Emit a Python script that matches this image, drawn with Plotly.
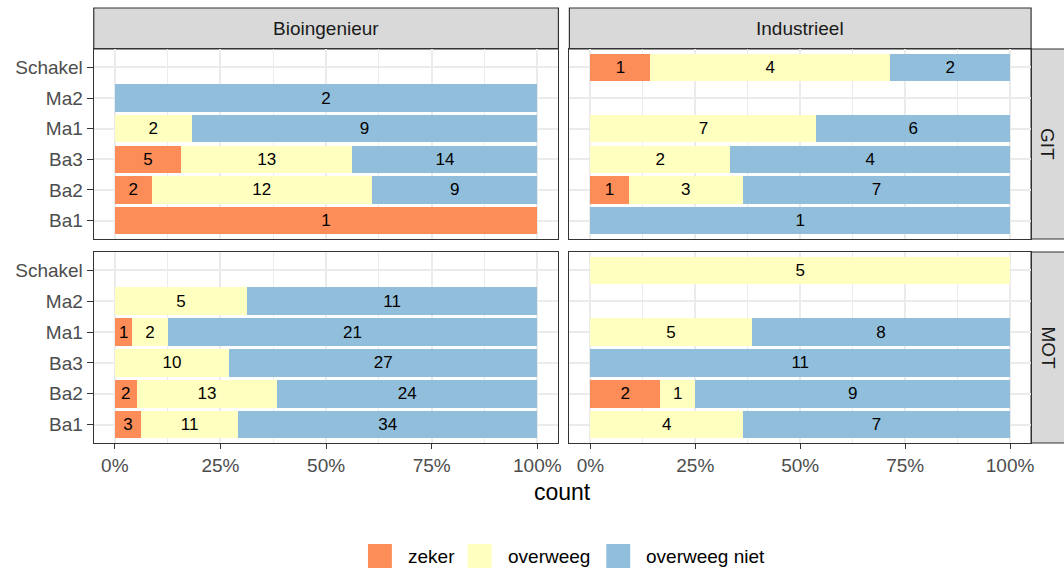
import plotly.graph_objects as go

# ---------------- data ----------------
years = ['Schakel', 'Ma2', 'Ma1', 'Ba3', 'Ba2', 'Ba1']
year_axis_order = ['Ba1', 'Ba2', 'Ba3', 'Ma1', 'Ma2', 'Schakel']
responses = ['zeker', 'overweeg', 'overweeg niet']
colors = ['#FC8D59', '#FFFFBF', '#91BFDB']
columns = ['Bioingenieur', 'Industrieel']
rows = ['GIT', 'MOT']

bio_git_zeker = [None, None, None, 5, 2, 1]
bio_git_overweeg = [None, None, 2, 13, 12, None]
bio_git_niet = [None, 2, 9, 14, 9, None]

ind_git_zeker = [1, None, None, None, 1, None]
ind_git_overweeg = [4, None, 7, 2, 3, None]
ind_git_niet = [2, None, 6, 4, 7, 1]

bio_mot_zeker = [None, None, 1, None, 2, 3]
bio_mot_overweeg = [None, 5, 2, 10, 13, 11]
bio_mot_niet = [None, 11, 21, 27, 24, 34]

ind_mot_zeker = [None, None, None, None, 2, None]
ind_mot_overweeg = [5, None, 5, None, 1, 4]
ind_mot_niet = [None, None, 8, 11, 9, 7]

x_ticks = [0, 0.25, 0.5, 0.75, 1]
x_ticktext = ['0%', '25%', '50%', '75%', '100%']

# ---------------- layout helpers ----------------
W, H = 1064, 571


def X(px):
    return px / W


def Y(py):
    return 1 - py / H


panel_x = [(94, 560), (571, 1034)]
panel_y = [(49, 239), (252, 443)]

facets = {
    (0, 0): [bio_git_zeker, bio_git_overweeg, bio_git_niet],
    (0, 1): [ind_git_zeker, ind_git_overweeg, ind_git_niet],
    (1, 0): [bio_mot_zeker, bio_mot_overweeg, bio_mot_niet],
    (1, 1): [ind_mot_zeker, ind_mot_overweeg, ind_mot_niet],
}

fig = go.Figure()
layout_axes = {}
idx = 0
for r in range(2):
    for c in range(2):
        idx += 1
        sfx = '' if idx == 1 else str(idx)
        series = facets[(r, c)]
        for k, resp in enumerate(responses):
            vals = series[k]
            fig.add_trace(go.Bar(
                y=years, x=vals, orientation='h', name=resp,
                marker=dict(color=colors[k], line=dict(width=0)),
                text=[str(v) if v is not None else None for v in vals],
                texttemplate='%{text}', textposition='inside',
                insidetextanchor='middle', textangle=0,
                textfont=dict(color='#000000', size=17,
                              family='Liberation Sans, Arial, sans-serif'),
                xaxis='x' + sfx, yaxis='y' + sfx, showlegend=False,
                hoverinfo='skip'))
        bottom = (r == 1)
        left = (c == 0)
        layout_axes['xaxis' + sfx] = dict(
            domain=[X(panel_x[c][0]), X(panel_x[c][1])],
            anchor='y' + sfx, range=[-0.05, 1.05],
            tickvals=x_ticks, ticktext=x_ticktext,
            showticklabels=bottom, ticks='outside' if bottom else '',
            ticklen=5, tickwidth=1, tickcolor='#333333',
            tickfont=dict(size=19, color='#4D4D4D'),
            showgrid=True, gridcolor='#EBEBEB', gridwidth=1.6,
            minor=dict(tickvals=[0.125, 0.375, 0.625, 0.875], showgrid=True,
                       gridcolor='#EBEBEB', gridwidth=0.9, ticks=''),
            showline=True, mirror=True, linecolor='#333333', linewidth=1.2,
            zeroline=False, fixedrange=True)
        layout_axes['yaxis' + sfx] = dict(
            domain=[Y(panel_y[r][1]), Y(panel_y[r][0])],
            anchor='x' + sfx, type='category',
            categoryorder='array', categoryarray=year_axis_order,
            range=[-0.6, 5.6],
            showticklabels=left, ticks='outside' if left else '',
            ticklen=6, tickwidth=1, tickcolor='#333333',
            tickfont=dict(size=19, color='#4D4D4D'),
            showgrid=True, gridcolor='#EBEBEB', gridwidth=1.6,
            showline=True, mirror=True, linecolor='#333333', linewidth=1.2,
            zeroline=False, fixedrange=True)

shapes = []
annotations = []
# column strips
for c, name in enumerate(columns):
    shapes.append(dict(type='rect', xref='paper', yref='paper',
                       x0=X(panel_x[c][0]), x1=X(panel_x[c][1]), y0=Y(49), y1=Y(8),
                       fillcolor='#D9D9D9', line=dict(color='#333333', width=1.2),
                       layer='below'))
    annotations.append(dict(xref='paper', yref='paper',
                            x=X((panel_x[c][0] + panel_x[c][1]) / 2), y=Y(28.5),
                            text=name, showarrow=False, xanchor='center', yanchor='middle',
                            font=dict(size=19, color='#1A1A1A')))
# row strips
for r, name in enumerate(rows):
    shapes.append(dict(type='rect', xref='paper', yref='paper',
                       x0=X(1034), x1=X(1070), y0=Y(panel_y[r][1]), y1=Y(panel_y[r][0]),
                       fillcolor='#D9D9D9', line=dict(color='#333333', width=1.2),
                       layer='below'))
    annotations.append(dict(xref='paper', yref='paper',
                            x=X(1051), y=Y((panel_y[r][0] + panel_y[r][1]) / 2),
                            text=name, showarrow=False, textangle=90,
                            xanchor='center', yanchor='middle',
                            font=dict(size=19, color='#1A1A1A')))

# axis title
annotations.append(dict(xref='paper', yref='paper', x=X(564), y=Y(492),
                        text='count', showarrow=False, xanchor='center', yanchor='middle',
                        font=dict(size=23, color='#000000')))

# legend (manual, ggplot-like keys)
key_x = [369, 469, 608]
text_x = [407, 507, 646]
for k, resp in enumerate(responses):
    shapes.append(dict(type='rect', xref='paper', yref='paper',
                       x0=X(key_x[k]), x1=X(key_x[k] + 24), y0=Y(568), y1=Y(544),
                       fillcolor=colors[k], line=dict(width=0)))
    annotations.append(dict(xref='paper', yref='paper', x=X(text_x[k]), y=Y(556),
                            text=resp, showarrow=False, xanchor='left', yanchor='middle',
                            font=dict(size=19, color='#000000')))

fig.update_layout(
    width=W, height=H, margin=dict(l=0, r=0, t=0, b=0),
    paper_bgcolor='white', plot_bgcolor='white',
    barmode='stack', barnorm='fraction', bargap=0.1,
    uniformtext=dict(minsize=17, mode='show'),
    font=dict(family='Liberation Sans, Arial, sans-serif'),
    shapes=shapes, annotations=annotations, showlegend=False,
    **layout_axes)

fig.write_html('out.html',
               config={'displayModeBar': False},
               post_script="document.body.style.margin='0';"
                           "document.body.style.padding='0';"
                           "document.body.style.overflow='hidden';")
